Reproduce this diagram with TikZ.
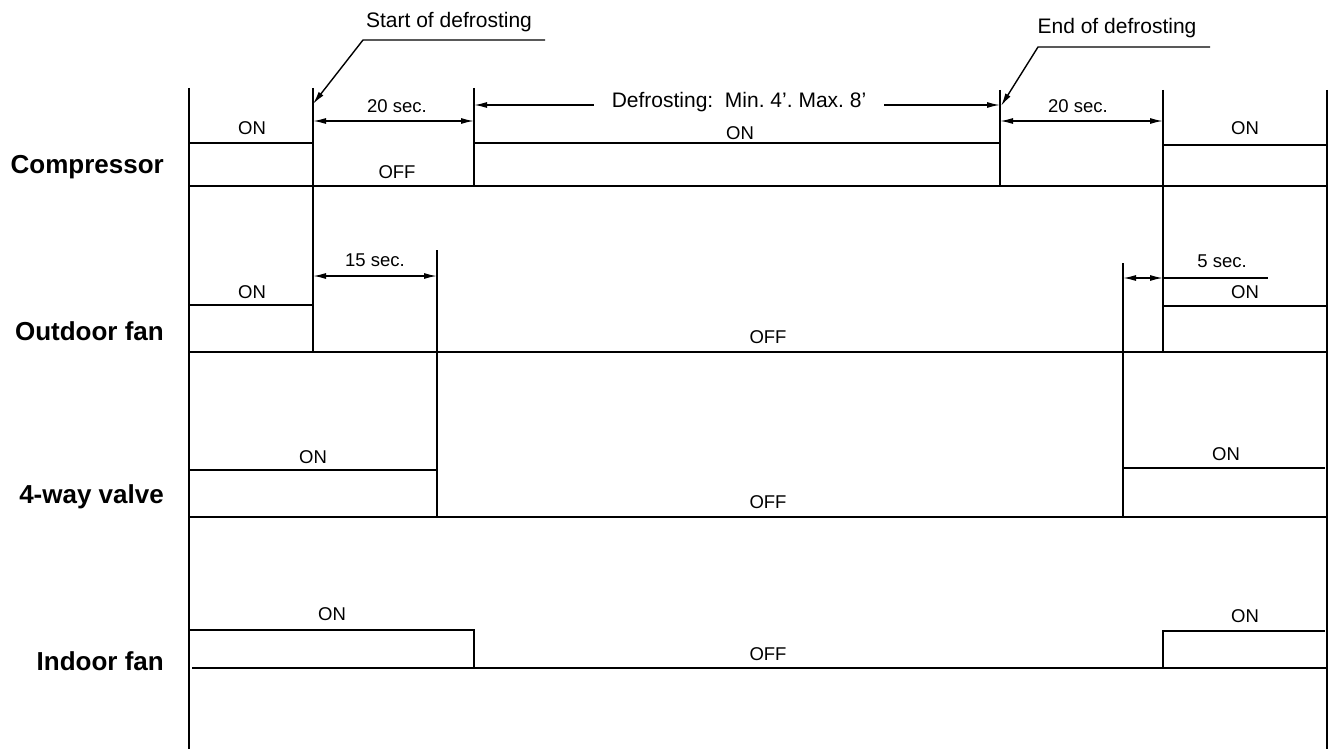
\documentclass[tikz,border=0pt]{standalone}
\usepackage{fontspec}
\setmainfont{Liberation Sans}
\usetikzlibrary{arrows.meta}
\frenchspacing
\begin{document}
\begin{tikzpicture}[x=1pt,y=-1pt,
  sig/.style={line width=1.7pt},
  axis/.style={line width=1.9pt},
  dimline/.style={line width=1.4pt,{Latex[length=13pt,width=6pt]}-{Latex[length=13pt,width=6pt]}},
  dimhalf/.style={line width=1.4pt,-{Latex[length=13pt,width=6pt]}},
  leader/.style={line width=1.4pt,-{Latex[length=13pt,width=6pt]}},
  lbl/.style={font=\fontsize{18.5}{20}\selectfont,inner sep=0pt},
  big/.style={font=\fontsize{21}{24}\selectfont,inner sep=0pt},
  rowlbl/.style={font=\fontsize{26}{30}\selectfont\bfseries,inner sep=0pt,anchor=east}]
\useasboundingbox (0,0) rectangle (1332,749);

% frame
\draw[axis] (189,88) -- (189,749);
\draw[axis] (1327,90) -- (1327,749);

% row labels
\node[rowlbl] (lcomp) at (164,167) {Compressor};
\node[rowlbl] (lout) at (164,331) {Outdoor fan};
\node[rowlbl] (lvalve) at (164,497) {4-way valve};
\node[rowlbl] (lin) at (164,661) {Indoor fan};

% event verticals
\draw[sig] (313,88) -- (313,352);
\draw[sig] (474,88) -- (474,186);
\draw[sig] (1000,90) -- (1000,186);
\draw[sig] (1163,90) -- (1163,352);
\draw[sig] (437,250) -- (437,517);
\draw[sig] (1123,263) -- (1123,517);

% Compressor
\draw[sig] (189,143) -- (313,143);
\draw[sig] (474,143) -- (1000,143);
\draw[sig] (1163,145) -- (1327,145);
\draw[sig] (189,186) -- (1327,186);
\node[lbl] (c1) at (252,128) {ON};
\node[lbl] (c2) at (397,172) {OFF};
\node[lbl] (c3) at (740,133) {ON};
\node[lbl] (c4) at (1245,128) {ON};

% Outdoor fan
\draw[sig] (189,305) -- (313,305);
\draw[sig] (1163,306) -- (1327,306);
\draw[sig] (189,352) -- (1327,352);
\node[lbl] (o1) at (252,292) {ON};
\node[lbl] (o2) at (768,337) {OFF};
\node[lbl] (o3) at (1245,292) {ON};

% 4-way valve
\draw[sig] (189,470) -- (437,470);
\draw[sig] (1123,468) -- (1325,468);
\draw[sig] (189,517) -- (1327,517);
\node[lbl] (v1) at (313,457) {ON};
\node[lbl] (v2) at (768,502) {OFF};
\node[lbl] (v3) at (1226,454) {ON};

% Indoor fan
\draw[sig] (189,630) -- (474,630) -- (474,668);
\draw[sig] (1163,668) -- (1163,631) -- (1325,631);
\draw[sig] (192,668) -- (1327,668);
\node[lbl] (i1) at (332,614) {ON};
\node[lbl] (i2) at (768,654) {OFF};
\node[lbl] (i3) at (1245,616) {ON};

% dimension coordinates
\coordinate (s20a) at (313,121);
\coordinate (s20b) at (474,121);
\coordinate (dfa) at (474,105);
\coordinate (dfb) at (1000,105);
\coordinate (e20a) at (1000,121);
\coordinate (e20b) at (1163,121);
\coordinate (f15a) at (313,276);
\coordinate (f15b) at (437,276);
\coordinate (f5a) at (1123,278);
\coordinate (f5b) at (1163,278);
\coordinate (f5c) at (1268,278);

\draw[dimline] (s20a) -- (s20b);
\node[lbl] (t20a) at (397,106) {20 sec.};
\draw[dimline] (e20a) -- (e20b);
\node[lbl] (t20b) at (1078,106) {20 sec.};
\draw[dimline] (f15a) -- (f15b);
\node[lbl] (t15) at (375,260) {15 sec.};
\draw[dimline] (f5a) -- (f5b);
\draw[line width=1.4pt] (f5b) -- (f5c);
\node[lbl] (t5) at (1222,261) {5 sec.};

\node[big,inner xsep=18pt,inner ysep=2pt] (tdef) at (739,102) {Defrosting:\ \ Min. 4’. Max. 8’};
\draw[dimhalf] (tdef.west |- dfa) -- (dfa);
\draw[dimhalf] (tdef.east |- dfb) -- (dfb);

% leaders
\node[big] (tstart) at (449,22) {Start of defrosting};
\coordinate (sl1) at (545,40);
\coordinate (sl2) at (363,40);
\coordinate (sl3) at (313,104);
\draw[leader] (sl1) -- (sl2) -- (sl3);

\node[big] (tend) at (1117,28) {End of defrosting};
\coordinate (el1) at (1210,47);
\coordinate (el2) at (1038,47);
\coordinate (el3) at (1001,106);
\draw[leader] (el1) -- (el2) -- (el3);
\end{tikzpicture}
\end{document}
